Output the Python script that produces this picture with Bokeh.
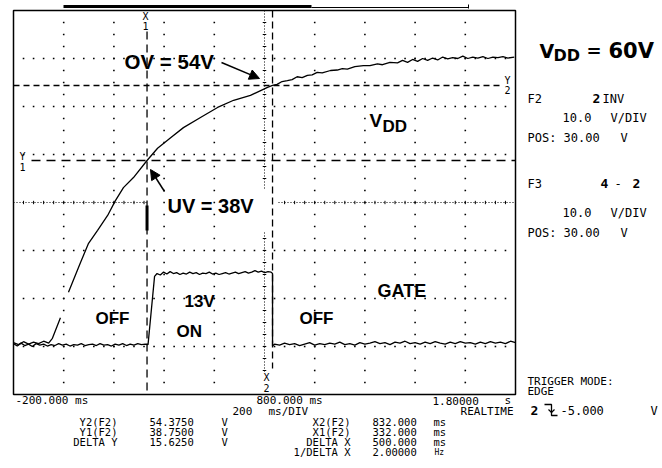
from bokeh.plotting import figure
from bokeh.models import Range1d, Arrow, NormalHead
from bokeh.core.properties import value
from bokeh.embed import file_html
from bokeh.resources import INLINE

NAN = float("nan")

# ---------------- data (time in ms, voltage in V) ----------------
vdd_t = [-200, -180, -160, -140, -120, -100, -80, -60, -45, -13, NAN,
         19, 67, 99, 135, 175, 206, 238, 278, 332, 374, 426, 477, 545, 613,
         677, 744, 812, 832, 850, 870, 891, 910, 930, 950, 971, 990, 1010, 1030,
         1063, 1090, 1110, 1130, 1160, 1194, 1220, 1250, 1270, 1300, 1330, 1350,
         1370, 1390, 1410, 1430, 1450, 1470, 1490, 1510, 1530, 1550, 1570, 1590,
         1610, 1630, 1650, 1670, 1690, 1710, 1730, 1750, 1770, 1795]
vdd_v = [0.8, 0.4, 1.0, 0.5, 0.9, 0.6, 1.1, 0.7, 1.7, 6.0, NAN,
         11.3, 17.5, 21.5, 24.2, 27.3, 30.4, 33.1, 35.2, 38.75, 41.3, 43.5, 45.6, 47.7, 49.8,
         51.3, 52.3, 54.0, 54.4, 54.6, 55.2, 55.4, 55.6, 56.2, 56.0, 56.5, 56.6, 57.1, 57.0,
         57.5, 57.6, 57.9, 57.8, 58.3, 58.5, 58.5, 58.9, 58.7, 59.2, 59.1, 59.6,
         59.2, 59.8, 59.4, 60.0, 59.6, 60.1, 59.7, 60.3, 59.9, 60.2, 60.0, 60.5,
         60.0, 60.3, 60.1, 60.4, 60.0, 60.3, 60.2, 60.4, 60.1, 60.3]

gate_t = [-200, -185, -170, -155, -140, -125, -110, -95, -80, -65, -50, -35, -20, -5,
          10, 25, 40, 55, 70, 85, 100, 115, 130, 145, 160, 175, 190, 205, 220, 235,
          250, 265, 280, 295, 310, 325, 336, 362,
          372, 385, 398, 411, 424, 437, 450, 463, 476, 489, 502, 515, 528, 541, 554,
          567, 580, 593, 606, 619, 632, 645, 658, 671, 684, 697, 710, 723, 736, 749,
          762, 775, 788, 801, 814, 826, 832, 832,
          840, 860, 880, 900, 920, 940, 960, 980, 1000, 1020, 1040, 1060, 1080, 1100,
          1120, 1140, 1160, 1180, 1200, 1220, 1240, 1260, 1280, 1300, 1320, 1340, 1360,
          1380, 1400, 1420, 1440, 1460, 1480, 1500, 1520, 1540, 1560, 1580, 1600, 1620,
          1640, 1660, 1680, 1700, 1720, 1740, 1760, 1780, 1800]
gate_v = [0.6, 0.1, 0.7, 0.2, 0.5, 0.0, 0.6, 0.3, 0.5, 0.1, 0.4, 0.2, 0.6, 0.3,
          0.5, 0.1, 0.4, 0.3, 0.6, 0.2, 0.4, 0.5, 0.2, 0.6, 0.3, 0.4, 0.1, 0.5, 0.3, 0.6,
          0.2, 0.5, 0.3, 0.6, 0.4, 0.5, 0.4, 14.6,
          15.2, 14.9, 15.5, 15.1, 15.6, 15.2, 15.4, 15.0, 15.3, 15.1, 15.5, 15.2, 15.4, 15.0, 15.3,
          15.2, 15.5, 15.1, 15.3, 15.0, 15.2, 15.4, 15.1, 15.3, 15.5, 15.2, 15.4, 15.6, 15.3, 15.5,
          15.8, 15.5, 15.7, 15.4, 15.6, 15.5, 15.2, 0.1,
          0.5, 0.3, 0.7, 0.4, 0.6, 0.2, 0.5, 0.8, 0.3, 0.6, 0.4, 0.7, 0.5, 0.9,
          0.4, 0.6, 0.3, 0.8, 0.5, 0.7, 1.0, 0.6, 0.8, 0.4, 0.9, 0.7, 1.1,
          0.6, 0.8, 0.5, 0.9, 0.6, 1.0, 0.7, 0.5, 0.9, 0.6, 1.0, 0.7, 0.8,
          0.5, 0.9, 0.6, 1.0, 0.7, 0.9, 0.6, 1.1, 0.8]

x1_ms, x2_ms = 332.0, 832.0
y1_v, y2_v = 38.75, 54.375
t_min, t_max, ms_div = -200, 1800, 200
v_min, v_max, v_div = -10, 70, 10
v_center, t_center = 30, 800

# ---------------- layout helpers (page pixel -> data) ----------------
W, H = 660, 466
OX, OY = 0, 0
MS_PX = (t_max - t_min) / 502.0
V_PX = (v_max - v_min) / 384.0


def X(px):
    return t_min + (px - 13) * MS_PX


def Y(py):
    return v_max - (py - 10) * V_PX


p = figure(width=W, height=H, x_range=Range1d(X(OX), X(OX + W)),
           y_range=Range1d(Y(OY + H), Y(OY)), output_backend="svg",
           toolbar_location=None, min_border=0,
           x_axis_location=None, y_axis_location=None)
p.grid.grid_line_color = None
p.outline_line_color = None
p.background_fill_color = "white"
p.border_fill_color = "white"

# graticule dots
dx, dy = [], []
for v in [0, 10, 20, 40, 50, 60]:
    t = t_min + 40
    while t < t_max:
        dx.append(t); dy.append(v)
        t += 40
for t in [0, 200, 400, 600, 1000, 1200, 1400, 1600]:
    v = v_min + 2.5
    while v < v_max:
        dx.append(t); dy.append(v)
        v += 2.5
p.scatter(dx, dy, marker="square", size=1.6, color="black", line_width=0)

# center dotted lines with ticks
p.segment(x0=[t_min, X(278)], y0=[v_center, v_center], x1=[X(148), t_max], y1=[v_center, v_center],
          line_color="black", line_width=1, line_dash="1 2")
p.segment(x0=[t_center, t_center], y0=[v_max, Y(232)], x1=[t_center, t_center], y1=[Y(190), Y(372)],
          line_color="black", line_width=1, line_dash="1 2")
tx = [t for t in range(t_min + 40, t_max, 40) if t < X(148) or t > X(278)]
p.segment(x0=tx, x1=tx, y0=[v_center - 0.35] * len(tx), y1=[v_center + 0.35] * len(tx),
          line_color="black", line_width=1)
ty = [v_min + 2.5 * k for k in range(1, 32)]
ty = [v for v in ty if (v > Y(190) or v < Y(232)) and v > Y(372)]
p.segment(x0=[t_center - 7] * len(ty), x1=[t_center + 7] * len(ty), y0=ty, y1=ty,
          line_color="black", line_width=1)

# border
p.quad(left=t_min, right=t_max, bottom=v_min, top=v_max, fill_color=None,
       line_color="black", line_width=1.5)
# top record bar
p.segment(x0=[X(63)], x1=[X(311)], y0=[Y(6)], y1=[Y(6)], line_color="black", line_width=3)
p.segment(x0=[X(311)], x1=[X(468)], y0=[Y(7)], y1=[Y(7)], line_color="black", line_width=1)
p.segment(x0=[X(468)], x1=[X(468)], y0=[Y(4)], y1=[Y(8)], line_color="black", line_width=1)

# cursors
p.segment(x0=[x1_ms], x1=[x1_ms], y0=[Y(31)], y1=[v_min], line_color="black",
          line_width=1.3, line_dash="8 5")
p.segment(x0=[x1_ms], x1=[x1_ms], y0=[Y(205)], y1=[Y(230)], line_color="black", line_width=3)
p.segment(x0=[x2_ms], x1=[x2_ms], y0=[v_max], y1=[Y(368)], line_color="black",
          line_width=1.3, line_dash="7 4")
p.segment(x0=[X(31)], x1=[t_max], y0=[y1_v], y1=[y1_v], line_color="black",
          line_width=1.3, line_dash="9 6")
p.segment(x0=[t_min], x1=[X(500)], y0=[y2_v], y1=[y2_v], line_color="black",
          line_width=1.3, line_dash="6 4")

# traces
p.line(vdd_t, vdd_v, line_color="black", line_width=1.3)
p.line(gate_t, gate_v, line_color="black", line_width=1.3)

MONO = "DejaVu Sans Mono"
SANS = "Liberation Sans"
WIDE = "DejaVu Sans"


def txt(px, py, s, size, font=MONO, bold=False, align="left"):
    p.text(x=[X(px)], y=[Y(py)], text=[s], text_font=value(font),
           text_font_size=f"{size}px", text_font_style="bold" if bold else "normal",
           text_align=align, text_baseline="middle", text_color="black")


# cursor labels
for (px, py, s) in [(145, 16, "X"), (145, 25, "1"), (22, 156, "Y"), (22, 166, "1"),
                    (507, 80, "Y"), (507, 89, "2"), (266, 377, "X"), (266, 387, "2")]:
    txt(px, py, s, 10, align="center")

# annotations
txt(124, 61, "OV = 54V", 20.5, SANS, True)
txt(167, 205, "UV = 38V", 20, SANS, True)
txt(369, 120, "V", 19, SANS, True)
txt(382, 126, "DD", 17, SANS, True)
txt(95, 318, "OFF", 17, SANS, True)
txt(184, 301, "13V", 17, SANS, True)
txt(176, 331, "ON", 17, SANS, True)
txt(299, 318, "OFF", 17, SANS, True)
txt(377, 290, "GATE", 18, SANS, True)

p.add_layout(Arrow(end=NormalHead(size=10, fill_color="black", line_color="black"),
                   x_start=X(221), y_start=Y(62), x_end=X(259), y_end=Y(78),
                   line_width=1.5, line_color="black"))
p.add_layout(Arrow(end=NormalHead(size=10, fill_color="black", line_color="black"),
                   x_start=X(164), y_start=Y(191), x_end=X(150), y_end=Y(169),
                   line_width=1.5, line_color="black"))

# right panel
txt(539, 50, "V", 19, WIDE, True)
txt(553, 55, "DD", 16, WIDE, True)
txt(586, 50, "=", 18, WIDE, True)
txt(608, 50, "60V", 21, WIDE, True)

S = 12
txt(527, 98, "F2", S)
txt(592, 98, "2", S + 1, MONO, True)
txt(602, 98, "INV", S)
txt(562, 117, "10.0", S)
txt(610, 117, "V/DIV", S)
txt(527, 137, "POS: 30.00", S)
txt(620, 137, "V", S)
txt(527, 183, "F3", S)
txt(600, 183, "4", S + 1, MONO, True)
txt(614, 183, "-", S)
txt(632, 183, "2", S + 1, MONO, True)
txt(562, 212, "10.0", S)
txt(610, 212, "V/DIV", S)
txt(527, 232, "POS: 30.00", S)
txt(620, 232, "V", S)
txt(527, 381, "TRIGGER MODE:", 11)
txt(527, 391, "EDGE", 11)
txt(530, 410, "2", S + 1, MONO, True)
p.line([X(544), X(551), X(551), X(557)], [Y(404), Y(404), Y(415), Y(415)],
       line_color="black", line_width=1.3)
p.line([X(548), X(551), X(554)], [Y(409), Y(412), Y(409)], line_color="black", line_width=1.2)
txt(560, 410, "-5.000", S)
txt(650, 410, "V", S)

# bottom readouts
T = 11
txt(15, 400, "-200.000 ms", T)
txt(256, 400, "800.000 ms", T)
txt(432, 400, "1.80000", T)
txt(504, 400, "s", T)
txt(232, 410.5, "200", T)
txt(268, 410.5, "ms/DIV", T)
txt(513, 410.5, "REALTIME", T, align="right")
B = 10.5
rows = [(421.5, "Y2(F2)", "54.3750", "X2(F2)", "832.000"),
        (431.5, "Y1(F2)", "38.7500", "X1(F2)", "332.000"),
        (441.5, "DELTA Y", "15.6250", "DELTA X", "500.000")]
for (py, a, b, c, d) in rows:
    txt(117, py, a, B, align="right")
    txt(149, py, b, B)
    txt(221, py, "V", B)
    txt(350, py, c, B, align="right")
    txt(372, py, d, B)
    txt(433, py, "ms", B)
txt(350, 451.5, "1/DELTA X", B, align="right")
txt(372, 451.5, "2.00000", B)
txt(434, 451.5, "Hz", 8)

open("out.html", "w").write(file_html(p, INLINE))
